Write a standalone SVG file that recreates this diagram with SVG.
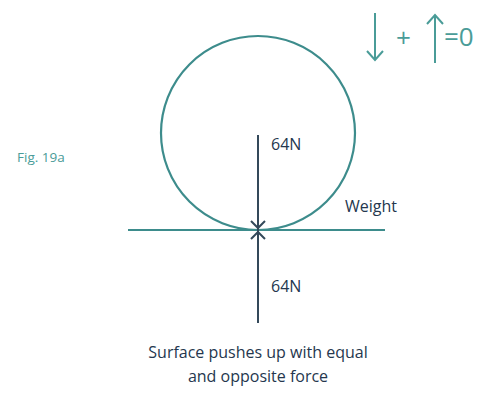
<svg xmlns="http://www.w3.org/2000/svg" width="492" height="394" viewBox="0 0 492 394">
<style>
.t{font-family:"Open Sans","Liberation Sans",sans-serif;fill:#25374e;font-size:16px}
.teal{stroke:#3d8c8c;fill:none;stroke-width:2.2}
.dark{stroke:#34495a;fill:none;stroke-width:2}
.tt{font-family:"Open Sans","Liberation Sans",sans-serif;fill:#4a9c98}
</style>
<rect width="492" height="394" fill="#fff"/>
<g id="ball"><circle class="teal" cx="258" cy="133" r="97"/></g>
<g id="ground"><line class="teal" x1="128" y1="230" x2="385" y2="230"/></g>
<g id="connectors">
<line class="dark" x1="258" y1="135" x2="258" y2="323"/>
<polyline class="dark" points="251,221 258,228 265,221"/>
<polyline class="dark" points="251,239 258,232 265,239"/>
</g>
<g id="labels">
<text class="t" x="271" y="150">64N</text>
<text class="t" x="345" y="212">Weight</text>
<text class="t" x="271" y="292">64N</text>
<text class="t" x="258" y="358" text-anchor="middle">Surface pushes up with equal</text>
<text class="t" x="258" y="382" text-anchor="middle">and opposite force</text>
<text class="tt" x="17" y="162" font-size="13.5">Fig. 19a</text>
</g>
<g id="equation" stroke="#4a9c98" stroke-width="2" fill="none">
<line x1="375" y1="13" x2="375" y2="60"/>
<polyline points="367,51 375,60 383,51"/>
<line x1="435" y1="63" x2="435" y2="15"/>
<polyline points="427,24 435,15 443,24"/>
</g>
<text class="tt" x="396" y="47" font-size="26">+</text>
<text class="tt" x="444" y="46" font-size="26">=0</text>
</svg>
